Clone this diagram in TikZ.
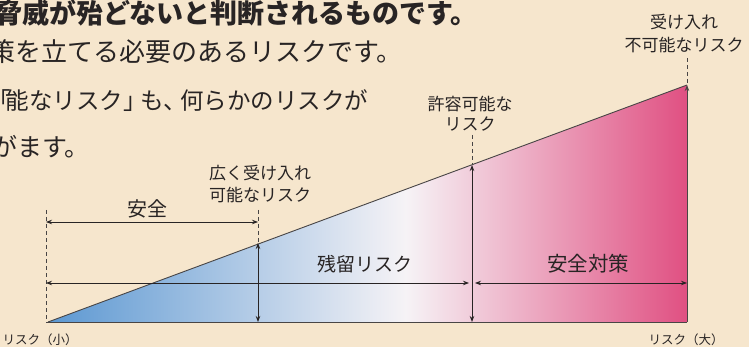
\documentclass[tikz,border=0pt]{standalone}
\usepackage{fontspec}
\newfontfamily\jp{Noto Sans CJK JP}
\usetikzlibrary{arrows.meta}
\definecolor{bg}{RGB}{246,230,205}
\definecolor{ink}{RGB}{40,36,36}
\definecolor{rblue}{RGB}{92,152,210}
\definecolor{rwhite}{RGB}{246,243,246}
\definecolor{rpink}{RGB}{224,80,130}
\pgfdeclarehorizontalshading{riskshade}{100bp}{color(0bp)=(rblue); color(25bp)=(rblue); color(53bp)=(rwhite); color(75bp)=(rpink); color(100bp)=(rpink)}
\begin{document}
\begin{tikzpicture}[x=1pt,y=-1pt,
  lbl/.style={font=\jp\fontsize{17}{22}\selectfont, text=ink, inner sep=0, align=center},
  body/.style={font=\jp\fontsize{26}{30}\selectfont, text=ink, inner sep=0, anchor=west},
  dim/.style={draw=ink, line width=0.9pt, {Stealth[length=6pt,width=4.5pt]}-{Stealth[length=6pt,width=4.5pt]}},
  guide/.style={draw=ink!85, line width=0.9pt, dash pattern=on 4pt off 3pt},
  edge/.style={draw=ink!85, line width=0.9pt}
  ]
\fill[bg] (0,0) rectangle (749,347);
\useasboundingbox (0,0) rectangle (749,347);
\begin{scope}
\clip (0,0) rectangle (749,347);
\node[body, font=\jp\bfseries\fontsize{27}{30}\selectfont] (t1) at (-5,13) {脅威が殆どないと判断されるものです。};
\node[body] (t2) at (-11,52) {策を立てる必要のあるリスクです。};
\node[body, font=\jp\fontsize{23.5}{28}\selectfont] (t3) at (-13,101) {「\kern-5pt 能なリスク」\kern-6pt も、\kern-7pt 何らかのリスクが};
\node[body, font=\jp\fontsize{25}{28}\selectfont] (t4) at (-8,147) {がます。};
\end{scope}

% triangle
\coordinate (A) at (48,322);
\coordinate (B) at (687,322);
\coordinate (C) at (687,85);
\shade[shading=riskshade] (A) -- (B) -- (C) -- cycle;

% guide coordinates
\coordinate (L0) at (46,322);
\coordinate (Ltop) at (46,210);
\coordinate (Ls) at (46,222);
\coordinate (Lm) at (46,283);
\coordinate (P1top) at (258,210);
\coordinate (P1s) at (258,222);
\coordinate (P1h) at (258,243);
\coordinate (P1b) at (258,322);
\coordinate (P2top) at (472,135);
\coordinate (P2h) at (472,165);
\coordinate (P2b) at (472,322);
\coordinate (P2l) at (469,283);
\coordinate (P2r) at (475,283);
\coordinate (Rm) at (687,283);
\coordinate (Rtop) at (687,58);

\draw[edge] (A) -- (C);
\draw[edge] (L0) -- (B);
\draw[edge, -{Stealth[length=6pt,width=4.5pt]}] (B) -- (C);

\draw[guide] (Ltop) -- (L0);
\draw[guide] (P1top) -- (P1h);
\draw[guide] (P2top) -- (P2h);
\draw[guide] (Rtop) -- (C);

\draw[dim] (Ls) -- (P1s);
\draw[dim] (Lm) -- (P2l);
\draw[dim] (P2r) -- (Rm);
\draw[dim] (P1h) -- (P1b);
\draw[dim] (P2h) -- (P2b);

% labels
\node[lbl, font=\jp\fontsize{17}{23}\selectfont] (unacc) at (684,34) {受け入れ\\不可能なリスク};
\node[lbl, font=\jp\fontsize{17}{20}\selectfont] (tol) at (470,114) {許容可能な\\リスク};
\node[lbl, font=\jp\fontsize{17}{22}\selectfont] (broad) at (260,184) {広く受け入れ\\可能なリスク};
\node[lbl, font=\jp\fontsize{20}{24}\selectfont] (safe) at (147,209) {安全};
\node[lbl, font=\jp\fontsize{19}{24}\selectfont] (resid) at (365,264) {残留リスク};
\node[lbl, font=\jp\fontsize{20.5}{24}\selectfont] (meas) at (588,264) {安全対策};
\node[lbl, font=\jp\fontsize{12.5}{15}\selectfont] (small) at (40,340) {リスク（小）};
\node[lbl, font=\jp\fontsize{12.5}{15}\selectfont] (large) at (686,340) {リスク（大）};
\end{tikzpicture}
\end{document}
